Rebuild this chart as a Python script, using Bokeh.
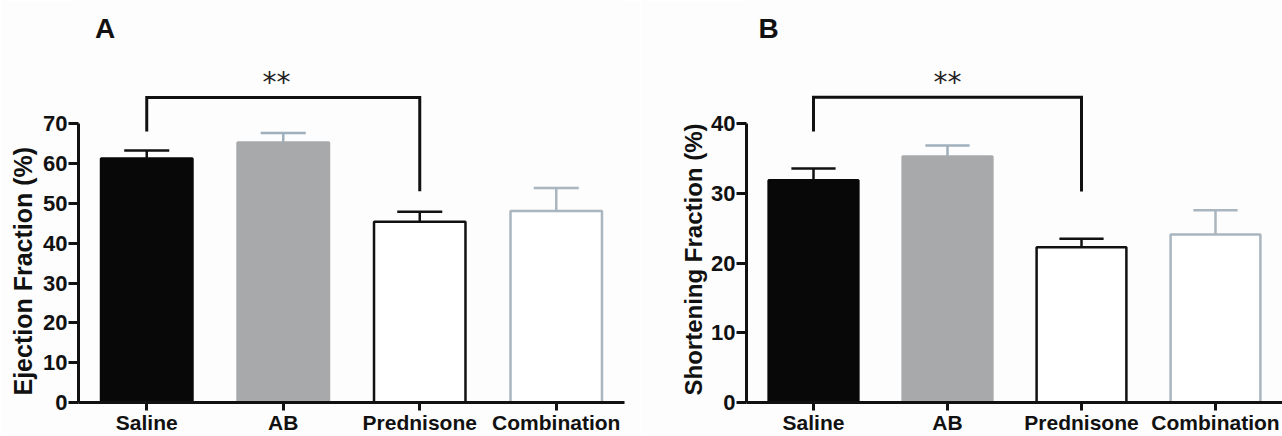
from bokeh.plotting import figure
from bokeh.models import ColumnDataSource, FactorRange, Range1d, FixedTicker, Title
from bokeh.transform import dodge
from bokeh.layouts import row
from bokeh.embed import file_html
from bokeh.resources import INLINE
from bokeh.core.properties import value

# ---------------- data ----------------
categories = ["Saline", "AB", "Prednisone", "Combination"]

ef_mean = [61.3, 65.3, 45.4, 48.1]
ef_sem = [2.0, 2.4, 2.5, 5.8]
ef_ticks = [0, 10, 20, 30, 40, 50, 60, 70]

sf_mean = [31.9, 35.3, 22.3, 24.1]
sf_sem = [1.7, 1.6, 1.2, 3.5]
sf_ticks = [0, 10, 20, 30, 40]

# significance brackets: (left leg bottom, bar height, right leg bottom)
ef_bracket = [68.1, 76.6, 53.1]
sf_bracket = [38.9, 43.8, 30.3]
sig_label = "**"

# ---------------- styles ----------------
fill_colors = ["#080808", "#a8a9ab", "#ffffff", "#ffffff"]
line_colors = ["#080808", "#a8a9ab", "#111111", "#a9b5bf"]
err_colors = ["#111111", "#9fb0bc", "#111111", "#a9b5bf"]
BG = "#fdfdfd"
FONT = "Liberation Sans"
FIG_H = 436
BOTTOM = 32


def make_panel(means, sems, ticks, ytop, bracket, letter, letter_pos, letter_off,
               star_off, ylabel, label_size, label_standoff, width, left, right):
    src = ColumnDataSource(dict(
        cat=categories, mean=means, upper=[m + s for m, s in zip(means, sems)],
        fill=fill_colors, line=line_colors, err=err_colors,
    ))
    p = figure(x_range=FactorRange(factors=categories, range_padding=0),
               y_range=Range1d(0, ytop), width=width, height=FIG_H,
               output_backend="svg", toolbar_location=None,
               min_border_left=left, min_border_right=right,
               min_border_top=0, min_border_bottom=BOTTOM)
    p.background_fill_color = BG
    p.border_fill_color = BG
    p.outline_line_color = None
    p.xgrid.grid_line_color = None
    p.ygrid.grid_line_color = None

    p.vbar(x="cat", top="mean", bottom=0, width=0.67, source=src,
           fill_color="fill", line_color="line", line_width=2.5)

    # error bars (upper only)
    p.segment(x0="cat", y0="mean", x1="cat", y1="upper", source=src,
              line_color="err", line_width=2.5)
    p.segment(x0=dodge("cat", -0.165, range=p.x_range), y0="upper",
              x1=dodge("cat", 0.165, range=p.x_range), y1="upper", source=src,
              line_color="err", line_width=2.5)

    # significance bracket between Saline and Prednisone
    p.line(x=[categories[0], categories[0], categories[2], categories[2]],
           y=[bracket[0], bracket[1], bracket[1], bracket[2]],
           line_color="#111111", line_width=3, line_join="miter")
    star_src = ColumnDataSource(dict(x=[categories[1]], y=[bracket[1] + 3.7 * (ytop / 99.0)], t=[sig_label]))
    p.text(x=dodge("x", star_off, range=p.x_range), y="y", text="t", source=star_src,
           text_font=value("DejaVu Sans"), text_font_size="28px", text_color="#222222",
           text_align="center", text_baseline="middle")

    let_src = ColumnDataSource(dict(x=[categories[0]], y=[letter_pos], t=[letter]))
    p.text(x=dodge("x", letter_off, range=p.x_range), y="y", text="t", source=let_src,
           text_font=value(FONT), text_font_size="28px", text_font_style="bold",
           text_color="#111111", text_align="left", text_baseline="middle")

    # axes
    for ax in (p.xaxis[0], p.yaxis[0]):
        ax.axis_line_width = 3
        ax.axis_line_color = "#111111"
        ax.major_tick_line_width = 3
        ax.major_tick_line_color = "#111111"
        ax.minor_tick_line_color = None
        ax.major_tick_in = 0
        ax.major_label_text_font = FONT
        ax.major_label_text_font_style = "bold"
        ax.major_label_text_color = "#111111"
    p.xaxis.major_tick_out = 8
    p.xaxis.major_label_standoff = 0
    p.xaxis.major_label_text_font_size = "21px"
    p.xaxis.major_label_text_line_height = 0.8

    p.yaxis.ticker = FixedTicker(ticks=ticks)
    p.yaxis.bounds = (ticks[0], ticks[-1])
    p.yaxis.major_tick_out = 10
    p.yaxis.major_label_standoff = 1
    p.yaxis.major_label_text_font_size = "22px"

    # y-axis title: starts at the bottom of the bounded axis
    p.add_layout(Title(text=ylabel, align="left", offset=7, standoff=label_standoff,
                       text_font=FONT, text_font_style="bold",
                       text_font_size=label_size, text_color="#111111"), "left")
    return p


pA = make_panel(ef_mean, ef_sem, ef_ticks, 101.0, ef_bracket, "A", 94.0, -0.38, -0.05,
                "Ejection Fraction (%)", "25px", 7, width=640, left=78, right=16)
pB = make_panel(sf_mean, sf_sem, sf_ticks, 57.7, sf_bracket, "B", 53.7, -0.41, 0.0,
                "Shortening Fraction (%)", "24px", 4, width=642, left=106, right=0)

layout = row(pA, pB)
open("out.html", "w").write(file_html(layout, INLINE))
